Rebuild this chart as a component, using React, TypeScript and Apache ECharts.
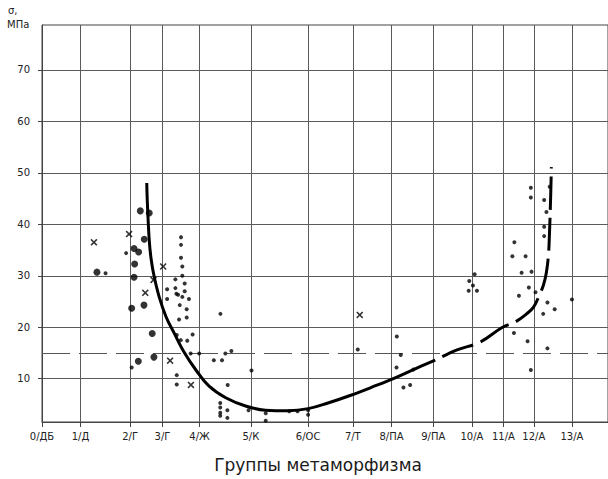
import React, { useEffect, useRef } from "react";
import * as echarts from "echarts";

// Groups of metamorphism (x axis) and their positions on the scale
const groupLabels = ["0/ДБ", "1/Д", "2/Г", "3/Г", "4/Ж", "5/К", "6/ОС", "7/Т", "8/ПА", "9/ПА", "10/А", "11/А", "12/А", "13/А"];
const groupPositions = [0, 3.87, 8.87, 12.13, 15.87, 21.03, 26.8, 31.3, 35.2, 39.4, 43.3, 46.47, 49.53, 53.37];
const yTicks = [10, 20, 30, 40, 50, 60, 70];
const thresholdValue = 15;

// Large dots
const bigDots: [number, number][] = [
  [9.9, 42.6], [10.8, 42.2], [10.3, 37.1], [9.27, 35.3], [9.73, 34.6], [9.33, 32.3],
  [5.53, 30.7], [9.27, 29.7], [10.27, 24.3], [9.03, 23.7], [11.1, 18.8], [11.27, 14.2], [9.7, 13.4],
];

// Crosses
const crosses: [number, number][] = [
  [5.23, 36.5], [8.77, 38.1], [10.4, 26.7], [11.23, 29.2], [12.2, 31.8], [12.9, 13.5], [15.0, 8.8], [32.0, 22.4],
];

// Small dots
const smallDots: [number, number][] = [
  [6.4, 30.5], [8.47, 34.4], [9.03, 12.2],
  [14.0, 37.5], [14.0, 36.0], [14.0, 33.5], [14.13, 31.8], [14.13, 30.0], [13.43, 29.3], [14.37, 28.5],
  [12.6, 27.4], [13.43, 27.6], [14.37, 27.0], [13.53, 26.5], [13.7, 26.3], [14.13, 25.9], [12.6, 25.5],
  [14.8, 25.5], [13.87, 24.3], [14.57, 23.5], [17.97, 22.6], [13.8, 21.5], [14.57, 21.9], [13.57, 18.5],
  [13.97, 17.5], [14.63, 17.4], [15.17, 18.6], [14.97, 14.9], [15.83, 14.9], [17.3, 13.6], [18.13, 13.6],
  [18.47, 14.9], [19.07, 15.4], [21.1, 11.6], [13.57, 10.7], [13.57, 8.9], [18.7, 8.8],
  [17.95, 5.3], [17.95, 4.4], [17.95, 3.4], [17.95, 2.8], [18.67, 3.9], [18.67, 2.4], [20.8, 3.9],
  [22.53, 3.3], [22.53, 1.85], [24.9, 3.7], [25.73, 3.7], [26.8, 3.9], [26.8, 3.0],
  [31.8, 15.7], [35.73, 18.2], [36.13, 14.6], [35.7, 12.2], [37.4, 11.8], [36.4, 8.3], [37.07, 8.8],
  [43.57, 30.3], [43.03, 29.0], [43.4, 28.1], [42.97, 27.1], [43.8, 27.1],
  [49.23, 47.1], [49.23, 45.2], [50.57, 44.7], [50.8, 42.4], [50.57, 39.5], [50.57, 37.7], [51.13, 47.3],
  [47.57, 36.5], [47.37, 33.8], [48.7, 33.8], [48.3, 30.6], [49.3, 30.8], [49.03, 27.7], [48.03, 26.1],
  [49.7, 26.8], [53.37, 25.4], [50.9, 24.8], [51.63, 23.5], [50.47, 22.6], [47.53, 18.9], [48.9, 17.3],
  [50.9, 15.9], [49.23, 11.7],
];

// Trend curve: solid part and dashed part
const curveSolid: [number, number][] = [
  [10.55, 48.0], [10.6, 44.7], [10.8, 36.9], [11.0, 33.1], [11.3, 29.8], [11.8, 25.9], [12.5, 22.0],
  [13.3, 18.9], [14.3, 15.2], [15.5, 11.7], [16.8, 8.6], [18.5, 6.3], [20.5, 4.7], [22.5, 3.9],
  [24.8, 3.8], [26.8, 4.2], [28.8, 5.3], [31.1, 6.8], [33.8, 8.8], [35.5, 10.1], [37.8, 12.1], [39.6, 13.6],
];
const curveDashed: [number, number][] = [
  [39.6, 13.6], [41.8, 15.6], [44.1, 17.1], [46.3, 19.9], [47.8, 21.2], [48.8, 22.6], [49.5, 23.9],
  [50.1, 26.3], [50.5, 28.2], [50.8, 30.7], [51.0, 34.0], [51.1, 37.9], [51.2, 43.7], [51.3, 51.1],
];

const crossPath =
  "path://M0,1.6L1.6,0L5,3.4L8.4,0L10,1.6L6.6,5L10,8.4L8.4,10L5,6.6L1.6,10L0,8.4L3.4,5Z";

export default function App() {
  const ref = useRef<HTMLDivElement>(null);
  useEffect(() => {
    if (!ref.current) return;
    const chart = echarts.init(ref.current, undefined, { renderer: "svg" });
    const font = "DejaVu Sans";
    const gridColor = "#5a5a5a";
    const textColor = "#222";
    chart.setOption({
      animation: false,
      backgroundColor: "#ffffff",
      grid: {
        left: 42,
        top: 25,
        width: 570,
        height: 397,
        show: true,
        borderColor: "#444",
        borderWidth: 1,
      },
      xAxis: {
        type: "value",
        min: 0,
        max: 57,
        axisLine: { show: true, lineStyle: { color: "#444", width: 1 } },
        axisTick: { show: true, length: 5, customValues: groupPositions, lineStyle: { color: "#444" } },
        axisLabel: {
          customValues: groupPositions,
          margin: 9,
          fontSize: 10,
          fontFamily: font,
          color: textColor,
          formatter: (v: number) => {
            const i = groupPositions.findIndex((p) => Math.abs(p - v) < 1e-6);
            return i >= 0 ? groupLabels[i] : "";
          },
        },
        splitLine: { show: true, lineStyle: { color: gridColor, width: 1 } },
      },
      yAxis: {
        type: "value",
        min: 1.6,
        max: 78.7,
        axisLine: { show: true, lineStyle: { color: "#444", width: 1 } },
        axisTick: { show: true, length: 4, customValues: yTicks, lineStyle: { color: "#444" } },
        axisLabel: {
          customValues: yTicks,
          margin: 12,
          fontSize: 10,
          fontFamily: font,
          color: textColor,
        },
        splitLine: { show: true, lineStyle: { color: gridColor, width: 1 } },
      },
      graphic: [
        { type: "text", left: 8, top: 5, style: { text: "σ,", font: `10px "${font}"`, fill: textColor } },
        { type: "text", left: 7, top: 19, style: { text: "МПа", font: `10px "${font}"`, fill: textColor } },
        {
          type: "text",
          x: 318,
          y: 465,
          style: {
            text: "Группы метаморфизма",
            font: `17px "${font}"`,
            fill: "#1a1a1a",
            textAlign: "center",
            textVerticalAlign: "middle",
          },
        },
      ],
      series: [
        {
          type: "line",
          data: curveSolid,
          smooth: 0.4,
          showSymbol: false,
          symbol: "none",
          lineStyle: { color: "#000", width: 3 },
          z: 5,
          markLine: {
            silent: true,
            symbol: ["none", "none"],
            label: { show: false },
            lineStyle: { color: "#555", width: 1, type: [28, 9] },
            data: [{ yAxis: thresholdValue }],
          },
        },
        {
          type: "line",
          data: curveDashed,
          smooth: 0.4,
          showSymbol: false,
          symbol: "none",
          lineStyle: { color: "#000", width: 3, type: [33, 8], dashOffset: 33 },
          z: 5,
        },
        {
          type: "scatter",
          data: bigDots,
          symbol: "circle",
          symbolSize: 7,
          itemStyle: { color: "#000" },
          z: 6,
        },
        {
          type: "scatter",
          data: smallDots,
          symbol: "circle",
          symbolSize: 4,
          itemStyle: { color: "#000" },
          z: 6,
        },
        {
          type: "scatter",
          data: crosses,
          symbol: crossPath,
          symbolSize: 7,
          itemStyle: { color: "#000" },
          z: 6,
        },
      ],
    });
    return () => chart.dispose();
  }, []);
  return (
    <div
      ref={ref}
      style={{ position: "fixed", left: 0, top: 0, width: 608, height: 479, background: "#fff" }}
    />
  );
}
